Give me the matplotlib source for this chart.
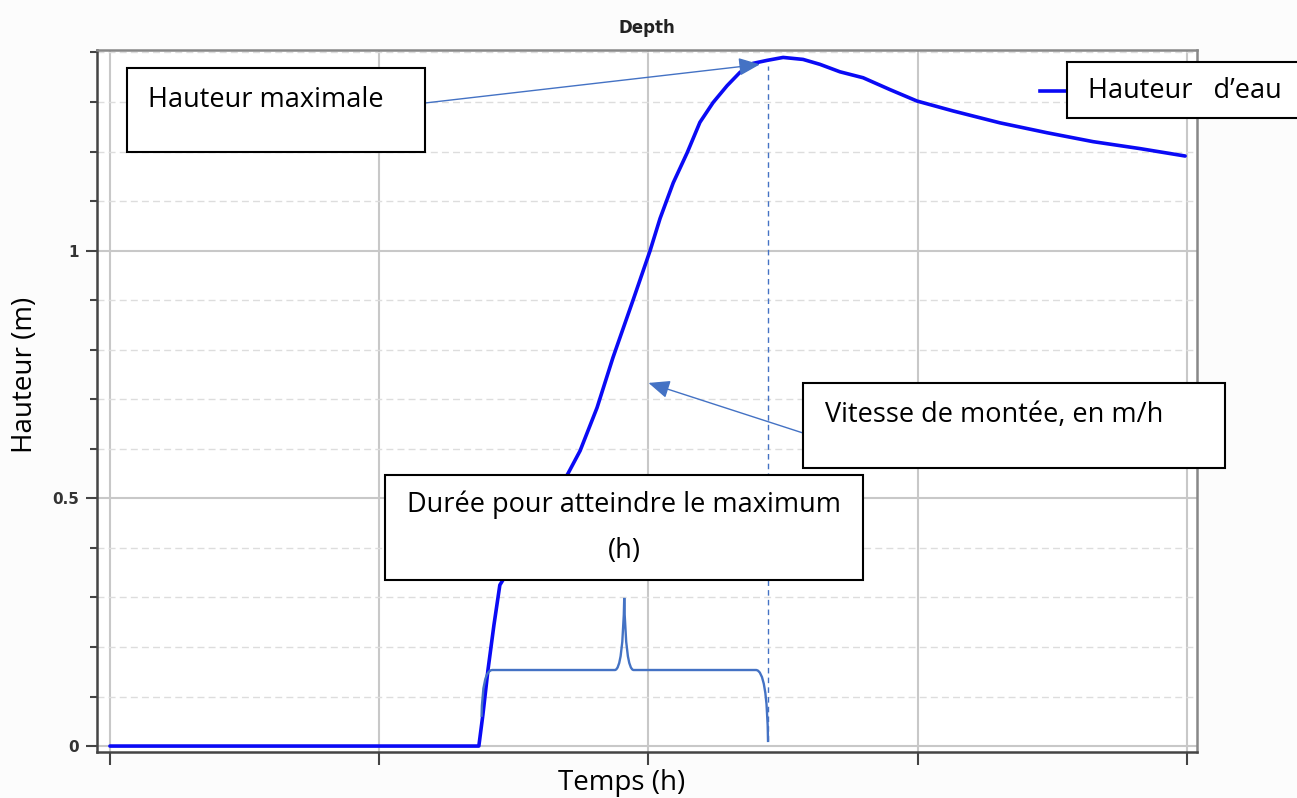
import matplotlib.pyplot as plt
from matplotlib.patches import Rectangle, PathPatch
from matplotlib.path import Path
from matplotlib.ticker import MultipleLocator

# Hydrogramme de hauteur d'eau (temps en unités de graduation)
temps_h = [0.0, 1.370, 1.385, 1.404, 1.426, 1.448, 1.701, 1.746, 1.809, 1.868,
           1.942, 2.006, 2.043, 2.092, 2.144, 2.191, 2.240, 2.292, 2.340,
           2.388, 2.440, 2.500, 2.574, 2.637, 2.711, 2.797, 2.897, 2.997,
           3.131, 3.305, 3.480, 3.651, 3.825, 3.993]
hauteur_m = [0.0, 0.0, 0.063, 0.154, 0.244, 0.325, 0.550, 0.596, 0.683, 0.784,
             0.899, 1.000, 1.065, 1.137, 1.198, 1.259, 1.299, 1.333, 1.360,
             1.378, 1.384, 1.390, 1.386, 1.376, 1.361, 1.349, 1.325, 1.302,
             1.282, 1.258, 1.238, 1.220, 1.206, 1.191]

x_ticks = [0, 1, 2, 3, 4]
y_ticks = [0, 0.5, 1]
y_tick_labels = ['0', '0.5', '1']

t_debut = 1.380     # début de la montée
t_max = 2.444       # instant du maximum
h_accolade = 0.1535
h_pointe = 0.299

BLEU = '#4472C4'
COURBE = '#0a0af5'
W, H = 1297, 798


def fx(px):
    return px / W


def fy(py):
    return 1 - py / H


fig = plt.figure(figsize=(W / 100, H / 100), dpi=100, facecolor='#fcfcfc')
plt.rcParams['font.family'] = ['Open Sans', 'DejaVu Sans']
ax = fig.add_axes([fx(97), fy(752), fx(1197) - fx(97), fy(50) - fy(752)])
ax.set_facecolor('white')

ax.plot(temps_h, hauteur_m, color=COURBE, lw=2.6, solid_joinstyle='round',
        solid_capstyle='round', zorder=5)
ax.set_xlim(-0.048, 4.037)
ax.set_ylim(-0.012, 1.405)

ax.set_xticks(x_ticks)
ax.set_xticklabels([''] * len(x_ticks))
ax.set_yticks(y_ticks)
ax.set_yticklabels(y_tick_labels, fontfamily='DejaVu Sans', fontweight='bold',
                   fontsize=11, color='#333333')
ax.yaxis.set_minor_locator(MultipleLocator(0.1))
ax.tick_params(axis='both', which='major', length=8, width=1.5, color='#444444', pad=5)
ax.tick_params(axis='y', which='minor', length=5, width=1.5, color='#444444')
ax.tick_params(axis='x', which='major', length=9)

ax.grid(which='major', color='#c8c8c8', lw=1.5)
ax.grid(which='minor', axis='y', color='#dddddd', lw=1, ls=(0, (5, 3)))
ax.set_axisbelow(True)

for cote in ['left', 'bottom']:
    ax.spines[cote].set_color('#444444')
    ax.spines[cote].set_linewidth(1.8)
for cote in ['top', 'right']:
    ax.spines[cote].set_color('#888888')
    ax.spines[cote].set_linewidth(1.8)

ax.set_title('Depth', fontfamily='DejaVu Sans', fontweight='bold', fontsize=12,
             color='#222222', pad=12)
fig.text(fx(25), fy(375), 'Hauteur (m)', rotation=90, ha='center', va='center',
         fontsize=20)
fig.text(fx(622), fy(783), 'Temps (h)', ha='center', va='center', fontsize=20)

# trait pointillé au maximum
ax.vlines(t_max, 0.01, 1.372, colors=BLEU, lw=1, linestyles=(0, (4, 3)), zorder=4)

# accolade de la durée de montée
verts = [(t_debut, 0.059), (t_debut + 0.003, h_accolade), (t_debut + 0.04, h_accolade),
         (1.875, h_accolade),
         (1.905, h_accolade), (1.910, h_pointe),
         (1.915, h_accolade), (1.945, h_accolade),
         (t_max - 0.045, h_accolade),
         (t_max - 0.003, h_accolade), (t_max, 0.008)]
codes = [Path.MOVETO, Path.CURVE3, Path.CURVE3, Path.LINETO,
         Path.CURVE3, Path.CURVE3, Path.CURVE3, Path.CURVE3,
         Path.LINETO, Path.CURVE3, Path.CURVE3]
ax.add_patch(PathPatch(Path(verts, codes), fill=False, edgecolor=BLEU, lw=1.7, zorder=6))


def boite(x0, y0, x1, y1):
    fig.patches.append(Rectangle((fx(x0), fy(y1)), fx(x1) - fx(x0), fy(y0) - fy(y1),
                                 transform=fig.transFigure, facecolor='white',
                                 edgecolor='black', lw=1.5, zorder=10))


fleche = dict(arrowstyle='-|>,head_length=1.3,head_width=0.55', color=BLEU, lw=1,
              shrinkA=0, shrinkB=0)

# Hauteur maximale
ax.annotate('', xy=(2.414, 1.376), xycoords='data',
            xytext=(fx(425), fy(103)), textcoords='figure fraction',
            arrowprops=fleche, zorder=9)
boite(127, 68, 425, 152)
fig.text(fx(148), fy(100), 'Hauteur maximale', ha='left', va='center', fontsize=19.5,
         zorder=11)

# Vitesse de montée
ax.annotate('', xy=(2.0, 0.733), xycoords='data',
            xytext=(fx(803), fy(433)), textcoords='figure fraction',
            arrowprops=fleche, zorder=9)
boite(803, 383, 1225, 468)
fig.text(fx(825), fy(415), 'Vitesse de montée, en m/h', ha='left', va='center',
         fontsize=19.5, zorder=11)

# Durée pour atteindre le maximum
boite(385, 475, 863, 580)
fig.text(fx(624), fy(505), 'Durée pour atteindre le maximum', ha='center',
         va='center', fontsize=19.5, zorder=11)
fig.text(fx(624), fy(551), '(h)', ha='center', va='center', fontsize=19.5, zorder=11)

# légende
fig.lines.append(plt.Line2D([fx(1040), fx(1067)], [fy(91), fy(91)],
                            transform=fig.transFigure, color=COURBE, lw=2.6))
boite(1067, 62, 1300, 118)
fig.text(fx(1088), fy(91), 'Hauteur   d’eau', ha='left', va='center', fontsize=19.5,
         zorder=11)

fig.savefig('out.png', dpi=100, facecolor=fig.get_facecolor())
